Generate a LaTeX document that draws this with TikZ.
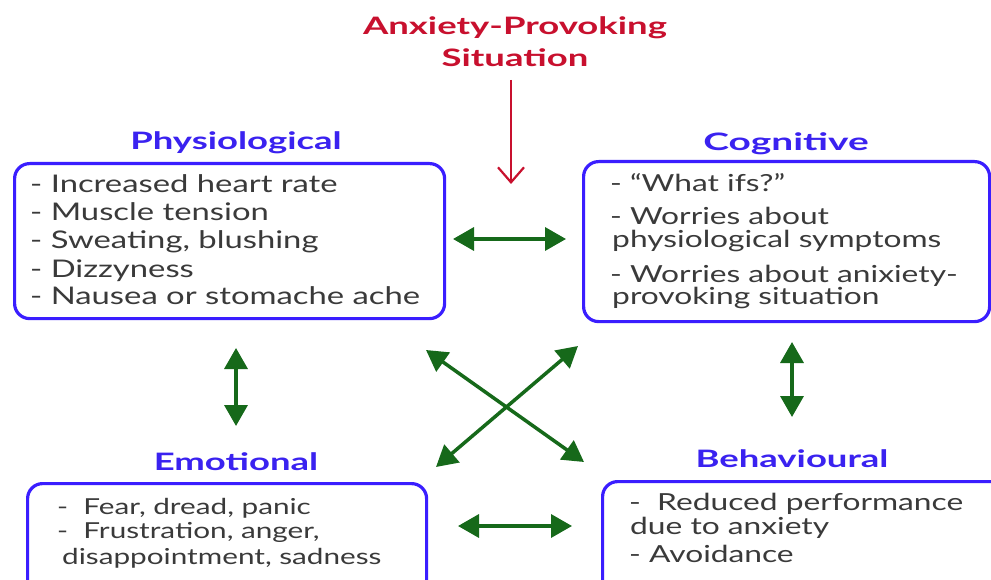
\documentclass[tikz,border=0pt]{standalone}
\usepackage{fontspec}
\setmainfont{Lato}[FakeStretch=1.35]
\newfontfamily\bodyfont{Lato}[FakeStretch=1.35]
\newfontfamily\headfont{Lato}[FakeStretch=1.52]
\newfontfamily\headfontw{Lato}[FakeStretch=1.62]
\usetikzlibrary{arrows.meta}
\definecolor{boxblue}{HTML}{3A1EFF}
\definecolor{headblue}{HTML}{3A22F0}
\definecolor{titlered}{HTML}{C8102E}
\definecolor{arrgreen}{HTML}{16691A}
\definecolor{bodygray}{HTML}{3A3A3A}
\begin{document}
\begin{tikzpicture}[x=1pt,y=-1pt,
  box/.style={draw=boxblue, line width=3.2pt, rounded corners=15pt, rectangle,
    inner sep=0pt, anchor=north west},
  head/.style={text=headblue, font=\headfont\fontsize{24}{28}\selectfont\bfseries, anchor=base, inner sep=0pt},
  ttl/.style={text=titlered, font=\headfont\fontsize{24}{28}\selectfont\bfseries, anchor=base, inner sep=0pt},
  body/.style={text=bodygray, anchor=base west, inner sep=0pt},
  bodyP/.style={body, font=\bodyfont\fontsize{24.3}{28}\selectfont},
  bodyC/.style={body, font=\bodyfont\fontsize{23.5}{28}\selectfont},
  bodyE/.style={body, font=\bodyfont\fontsize{22}{26}\selectfont},
  bodyB/.style={body, font=\bodyfont\fontsize{23.5}{28}\selectfont},
  dbl/.style={draw=arrgreen, line width=3.5pt,
    {Triangle[length=21pt,width=23pt]}-{Triangle[length=21pt,width=23pt]}},
  redarr/.style={draw=titlered, line width=2.2pt,
    -{Straight Barb[length=15pt,width=26pt,line width=2.2pt]}}]
\useasboundingbox (0,0) rectangle (991,580);
\clip (0,0) rectangle (991,580);
\fill[white] (0,0) rectangle (991,580);

% title
\node[ttl] (t1) at (515,35) {Anxiety-Provoking};
\node[ttl] (t2) at (515,67) {Situation};

% headings
\node[head] (hP) at (236,150) {Physiological};
\node[head, font=\headfontw\fontsize{24}{28}\selectfont\bfseries] (hC) at (786,151) {Cognitive};
\node[head] (hE) at (236,470) {Emotional};
\node[head] (hB) at (792,467) {Behavioural};

% boxes
\node[box, minimum width=430pt, minimum height=155pt] (bP) at (13,162) {};
\node[box, minimum width=406pt, minimum height=160pt] (bC) at (582,160) {};
\node[box, minimum width=399pt, minimum height=140pt] (bE) at (26,482) {};
\node[box, minimum width=420pt, minimum height=140pt] (bB) at (601,480) {};

% physiological text
\node[bodyP] (p1) at (30,193) {- Increased heart rate};
\node[bodyP] (p2) at (30,221) {- Muscle tension};
\node[bodyP] (p3) at (30,249) {- Sweating, blushing};
\node[bodyP] (p4) at (30,277) {- Dizzyness};
\node[bodyP] (p5) at (30,305) {- Nausea or stomache ache};

% cognitive text
\node[bodyC] (c1) at (610,192) {- “What ifs?”};
\node[bodyC] (c2) at (610,225) {- Worries about};
\node[bodyC] (c3) at (612,248) {physiological symptoms};
\node[bodyC] (c4) at (610,283) {- Worries about anixiety-};
\node[bodyC] (c5) at (612,305) {provoking situation};

% emotional text
\node[bodyE] (e1) at (57,514) {- \ Fear, dread, panic};
\node[bodyE] (e2) at (57,538) {- \ Frustration, anger,};
\node[bodyE] (e3) at (62,564) {disappointment, sadness};

% behavioural text
\node[bodyB] (b1) at (629,510) {- \ Reduced performance};
\node[bodyB] (b2) at (630,534) {due to anxiety};
\node[bodyB] (b3) at (629,562) {- Avoidance};

% arrow end points
\coordinate (rS) at (511,80);
\coordinate (rE) at (511,184);
\coordinate (pcA) at (453,239);
\coordinate (pcB) at (566,239);
\coordinate (peA) at (236,348);
\coordinate (peB) at (236,426);
\coordinate (cbA) at (792,342);
\coordinate (cbB) at (792,417);
\coordinate (x1A) at (426,350);
\coordinate (x1B) at (584,462);
\coordinate (x2A) at (578,346);
\coordinate (x2B) at (436,467);
\coordinate (ebA) at (458,526);
\coordinate (ebB) at (572,526);

\draw[redarr] (rS) -- (rE);
\draw[dbl] (pcA) -- (pcB);
\draw[dbl] (peA) -- (peB);
\draw[dbl] (cbA) -- (cbB);
\draw[dbl] (x1A) -- (x1B);
\draw[dbl] (x2A) -- (x2B);
\draw[dbl] (ebA) -- (ebB);
\end{tikzpicture}
\end{document}
